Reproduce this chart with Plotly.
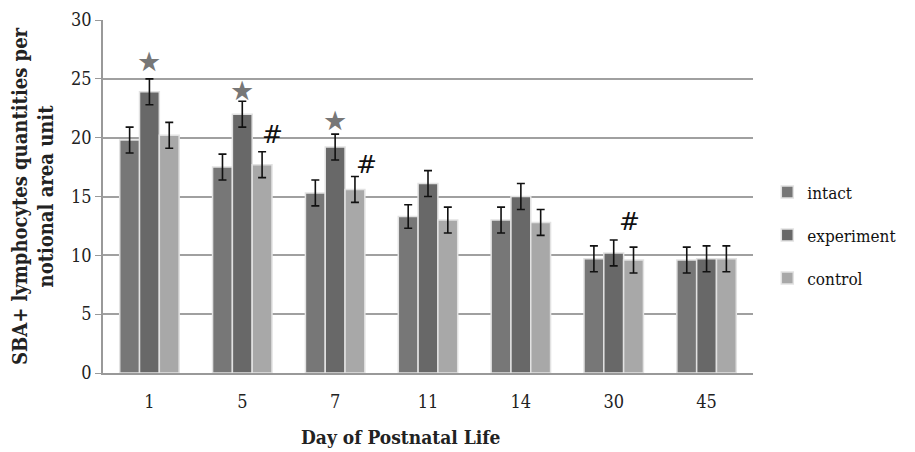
import plotly.graph_objects as go

days = ["1", "5", "7", "11", "14", "30", "45"]
intact = [19.8, 17.5, 15.3, 13.3, 13.0, 9.7, 9.6]
experiment = [23.9, 22.0, 19.2, 16.1, 15.0, 10.2, 9.7]
control = [20.2, 17.7, 15.6, 13.0, 12.8, 9.6, 9.7]
err_intact = [1.1, 1.1, 1.1, 1.0, 1.1, 1.1, 1.1]
err_experiment = [1.1, 1.1, 1.1, 1.1, 1.1, 1.1, 1.1]
err_control = [1.1, 1.1, 1.1, 1.1, 1.1, 1.1, 1.1]

star_days = ["1", "5", "7"]
star_levels = [26.5, 24.0, 21.5]
hash_days = ["5", "7", "30"]
hash_levels = [20.3, 17.7, 12.9]
hash_shift = [30, 31, 16]

y_ticks = [0, 5, 10, 15, 20, 25, 30]

FONT = "DejaVu Serif Condensed, DejaVu Serif, serif"

fig = go.Figure()
for name, vals, errs, color in [
    ("intact", intact, err_intact, "#777777"),
    ("experiment", experiment, err_experiment, "#686868"),
    ("control", control, err_control, "#a8a8a8"),
]:
    fig.add_trace(go.Bar(
        x=days, y=vals, name=name, legendgroup=name,
        marker=dict(color=color, line=dict(color="#e2e2e2", width=1.5)),
        error_y=dict(type="data", array=errs, color="#111111", thickness=1.6, width=4),
    ))

for d, lvl in zip(star_days, star_levels):
    fig.add_annotation(x=days.index(d), y=lvl, text="★", showarrow=False,
                       font=dict(size=27, color="#777777", family="DejaVu Sans"))
for d, lvl, sh in zip(hash_days, hash_levels, hash_shift):
    fig.add_annotation(x=days.index(d), y=lvl, text="#", showarrow=False, xshift=sh,
                       font=dict(size=25, color="#111111", family="DejaVu Sans"))

fig.add_annotation(xref="paper", yref="paper", x=0.458, y=0, yshift=-64,
                   xanchor="center", yanchor="middle", showarrow=False,
                   text="<b>Day of Postnatal Life</b>",
                   font=dict(size=19, family=FONT, color="#222222"))

fig.update_layout(
    width=907, height=444,
    margin=dict(l=95, r=162, t=12, b=79, autoexpand=False),
    paper_bgcolor="white", plot_bgcolor="white",
    barmode="group", bargap=0.36, bargroupgap=0.0,
    font=dict(family=FONT, size=17, color="#222222"),
    legend=dict(x=1.022, y=0.39, yanchor="middle", xanchor="left",
                font=dict(size=17, family=FONT, color="#111111"),
                tracegroupgap=18, itemwidth=30),
    showlegend=True,
)
fig.update_xaxes(
    type="category", range=[-0.5, len(days) - 0.5], automargin=False,
    showline=True, linecolor="#999999", linewidth=1.5,
    ticks="", tickfont=dict(size=18, family=FONT), ticklabelstandoff=12,
)
fig.update_yaxes(
    range=[0, 30], tickvals=y_ticks, automargin=False,
    showgrid=True, gridcolor="#a0a0a0", gridwidth=1.5,
    showline=True, linecolor="#999999", linewidth=1.5,
    ticks="outside", ticklen=6, tickcolor="#999999",
    tickfont=dict(size=18, family=FONT), zeroline=False,
    title=dict(text="<b>SBA+ lymphocytes quantities per<br>notional area unit</b>",
               font=dict(size=20, family=FONT), standoff=14),
)

fig.write_html("out.html")
